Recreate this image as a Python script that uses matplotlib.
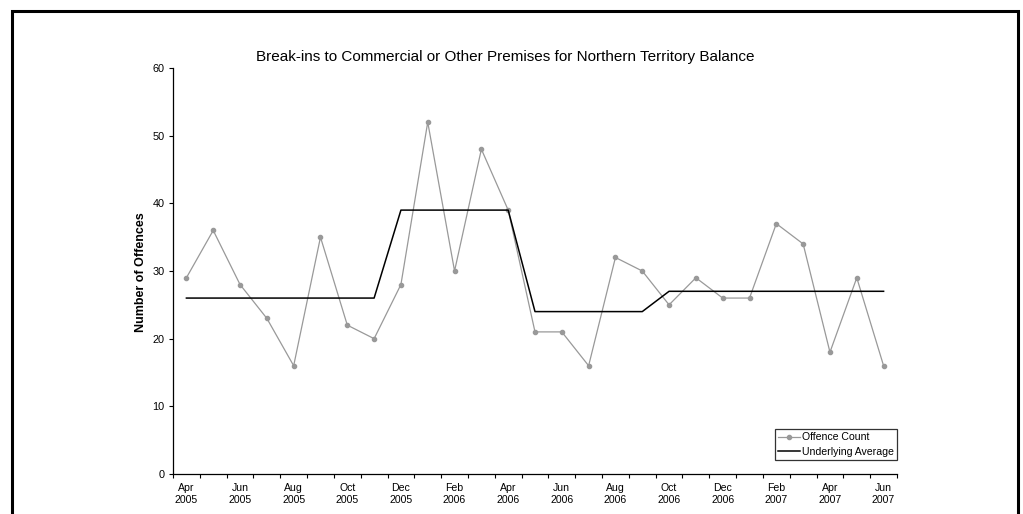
import matplotlib
matplotlib.use('Agg')
import matplotlib.pyplot as plt
from matplotlib.patches import Rectangle

plt.rcParams['font.family'] = ['Liberation Sans', 'DejaVu Sans']

months = ['Apr', 'May', 'Jun', 'Jul', 'Aug', 'Sep', 'Oct', 'Nov', 'Dec',
          'Jan', 'Feb', 'Mar', 'Apr', 'May', 'Jun', 'Jul', 'Aug', 'Sep',
          'Oct', 'Nov', 'Dec', 'Jan', 'Feb', 'Mar', 'Apr', 'May', 'Jun']
years = [2005] * 9 + [2006] * 12 + [2007] * 6
offence_count = [29, 36, 28, 23, 16, 35, 22, 20, 28, 52, 30, 48, 39, 21,
                 21, 16, 32, 30, 25, 29, 26, 26, 37, 34, 18, 29, 16]
underlying_avg = [26, 26, 26, 26, 26, 26, 26, 26, 39, 39, 39, 39, 39, 24,
                  24, 24, 24, 24, 27, 27, 27, 27, 27, 27, 27, 27, 27]

W, H = 1023, 514
fig = plt.figure(figsize=(W / 100, H / 100), dpi=100)
ax = fig.add_axes([173 / W, 1 - 474 / H, (897 - 173) / W, (474 - 68) / H])

x = list(range(len(months)))
ax.plot(x, offence_count, color='#999999', lw=0.9, marker='o', ms=3,
        label='Offence Count')
ax.plot(x, underlying_avg, color='black', lw=1.1, label='Underlying Average')

ax.set_xlim(-0.5, len(months) - 0.5)
ax.set_ylim(0, 60)
ax.set_yticks(range(0, 61, 10))
ax.set_xticks(x[::2])
ax.set_xticklabels([f'{m}\n{y}' for m, y in zip(months[::2], years[::2])])
ax.set_xticks([i - 0.5 for i in range(len(months) + 1)], minor=True)
ax.tick_params(axis='x', which='major', length=0, labelsize=7.6, pad=6.5)
ax.tick_params(axis='x', which='minor', length=3, width=0.8, direction='out')
ax.tick_params(axis='y', length=3, width=0.8, direction='out', labelsize=7.8,
               pad=3)
for lab in ax.get_xticklabels():
    lab.set_linespacing(1.25)

ax.spines['top'].set_visible(False)
ax.spines['right'].set_visible(False)
ax.spines['left'].set_linewidth(0.9)
ax.spines['bottom'].set_linewidth(0.9)

leg = ax.legend(loc='lower right', bbox_to_anchor=(1.0, 0.034), fontsize=7.6,
                frameon=True, fancybox=False, edgecolor='black',
                handlelength=2.1, handletextpad=0.2, borderpad=0.3,
                labelspacing=0.45, borderaxespad=0)
leg.get_frame().set_linewidth(0.9)

fig.text(505 / W, 1 - 57 / H, 'Break-ins to Commercial or Other Premises for '
         'Northern Territory Balance', ha='center', va='center', fontsize=11)
fig.text(141 / W, 1 - 272 / H, 'Number of Offences', rotation=90,
         ha='center', va='center', fontsize=9, fontweight='bold')

# outer frame, open at the bottom like the source
fig.patches.append(Rectangle((11.5 / W, -0.1), (1017.5 - 11.5) / W,
                             1.1 - 11.5 / H, transform=fig.transFigure,
                             fill=False, edgecolor='black', lw=2.2))

fig.savefig('out.png', dpi=100)
